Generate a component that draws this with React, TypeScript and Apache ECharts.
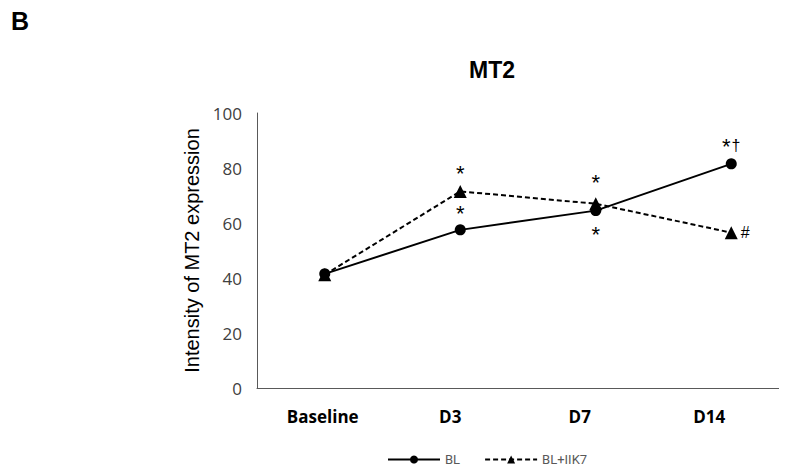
import React, { useEffect, useRef } from "react";
import * as echarts from "echarts";

const categories = ["Baseline", "D3", "D7", "D14"];
const blValues = [41.5, 57.5, 64.5, 81.5];
const bliik7Values = [41.2, 71.5, 67, 56.5];
const blMarks = ["", "*", "*", "*†"];
const iikMarks = ["", "*", "*", "#"];
const yTicks = { min: 0, max: 100, interval: 20 };

const blMarkPos = ["top", "top", "bottom", "top"];
const iikMarkPos = ["top", "top", "top", "right"];

export default function App() {
  const ref = useRef<HTMLDivElement>(null);
  useEffect(() => {
    const chart = echarts.init(ref.current!, null, { renderer: "svg" });
    const font = "Liberation Sans, Arial, sans-serif";
    const labelShift = [4, 20, 32, 44];
    const markLabel = (txt: string, pos: string, extra = 0) => {
      const base: any = {
        show: txt !== "",
        position: pos,
        color: "#000",
        fontFamily: font,
      };
      if (pos === "right") {
        return { ...base, formatter: txt, distance: 3, fontSize: 16 };
      }
      if (txt === "*†") {
        return {
          ...base,
          formatter: "{s|*}{d|†}",
          distance: 1,
          rich: {
            s: { fontSize: 22, fontFamily: font, color: "#000", verticalAlign: "top", lineHeight: 22 },
            d: { fontSize: 16, fontFamily: font, color: "#000", verticalAlign: "top", lineHeight: 22, padding: [2, 0, 0, 1] },
          },
        };
      }
      return { ...base, formatter: txt, distance: (pos === "bottom" ? 7 : 0) + extra, fontSize: 22 };
    };
    const rich: any = {};
    categories.forEach((c, i) => {
      rich["c" + i] = {
        fontSize: 17,
        fontWeight: "bold",
        color: "#000",
        fontFamily: "Open Sans, sans-serif",
        padding: [0, labelShift[i], 0, 0],
      };
    });
    chart.setOption({
      animation: false,
      backgroundColor: "#fff",
      title: {
        text: "MT2",
        left: 487,
        textAlign: "center",
        top: 53,
        textStyle: { fontSize: 23, fontWeight: "bold", color: "#000", fontFamily: font },
      },
      graphic: [
        {
          type: "text",
          left: 11,
          top: 8,
          style: { text: "B", fontSize: 25, fontWeight: "bold", fill: "#000", fontFamily: font },
        },
      ],
      legend: {
        bottom: 2,
        left: 382,
        itemWidth: 52,
        itemHeight: 10,
        itemGap: 24,
        textStyle: { fontSize: 13, color: "#595959", fontFamily: "Roboto, sans-serif" },
        data: ["BL", "BL+IIK7"],
      },
      grid: { left: 257, top: 113, width: 542, height: 275, containLabel: false },
      xAxis: {
        type: "category",
        data: categories,
        boundaryGap: true,
        axisLine: { lineStyle: { color: "#595959", width: 1 } },
        axisTick: { show: false },
        axisLabel: {
          margin: 20,
          formatter: (v: string) => "{c" + categories.indexOf(v) + "|" + v + "}",
          rich,
        },
      },
      yAxis: {
        type: "value",
        min: yTicks.min,
        max: yTicks.max,
        interval: yTicks.interval,
        name: "Intensity of MT2 expression",
        nameLocation: "middle",
        nameGap: 42,
        nameTextStyle: { fontSize: 20, color: "#000", fontFamily: font },
        axisLine: { show: true, lineStyle: { color: "#595959", width: 1 } },
        axisTick: { show: false },
        splitLine: { show: false },
        axisLabel: { margin: 15, fontSize: 17, color: "#404040", fontFamily: "Open Sans, sans-serif" },
      },
      series: [
        {
          name: "BL",
          type: "line",
          data: blValues.map((v, i) => ({ value: v, label: markLabel(blMarks[i], blMarkPos[i]) })),
          symbol: "circle",
          symbolSize: 11,
          itemStyle: { color: "#000" },
          lineStyle: { color: "#000", width: 2 },
        },
        {
          name: "BL+IIK7",
          type: "line",
          data: bliik7Values.map((v, i) => ({ value: v, label: markLabel(iikMarks[i], iikMarkPos[i], i === 2 ? 4 : 0) })),
          symbol: "triangle",
          symbolSize: 13,
          itemStyle: { color: "#000" },
          lineStyle: { color: "#000", width: 2, type: [5, 3] },
        },
      ],
    });
    return () => chart.dispose();
  }, []);
  return (
    <div style={{ width: 787, height: 473, margin: -8, overflow: "hidden" }}>
      <div ref={ref} style={{ width: 800, height: 473 }} />
    </div>
  );
}
